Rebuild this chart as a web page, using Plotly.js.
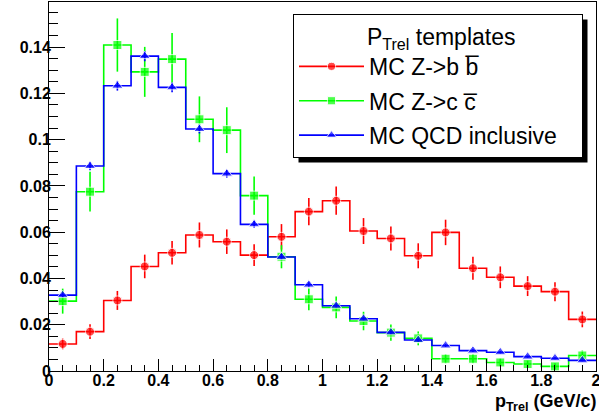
<!DOCTYPE html>
<html>
<head>
<meta charset="utf-8">
<script src="https://cdn.plot.ly/plotly-3.0.1.min.js"></script>
<style>html,body{margin:0;padding:0;background:#fff;}#chart{width:599px;height:415px;}</style>
</head>
<body>
<div id="chart"></div>
<script>
// Bin centres (p_Trel, GeV/c)
const binCenters = [0.05,0.15,0.25,0.35,0.45,0.55,0.65,0.75,0.85,0.95,1.05,1.15,1.25,1.35,1.45,1.55,1.65,1.75,1.85,1.95];

// MC Z->b bbar
const zbbValues = [0.0117,0.0170,0.0305,0.0452,0.0511,0.0588,0.0559,0.0501,0.0580,0.0689,0.0736,0.0605,0.0573,0.0498,0.0599,0.0444,0.0405,0.0367,0.0343,0.0223];
const zbbErrors = [0.0023,0.0032,0.0041,0.0051,0.0051,0.0054,0.0053,0.0047,0.0055,0.0059,0.0061,0.0056,0.0052,0.0054,0.0055,0.0050,0.0047,0.0043,0.0041,0.0034];

// MC Z->c cbar
const zccValues = [0.0302,0.0775,0.1409,0.1293,0.1348,0.1088,0.1041,0.0758,0.0494,0.0310,0.0275,0.0216,0.0166,0.0141,0.0053,0.0053,0.0037,0.0030,0.0020,0.0067];
const zccErrors = [0.0054,0.0086,0.0115,0.0108,0.0113,0.0099,0.0099,0.0083,0.0050,0.0047,0.0047,0.0040,0.0035,0.0030,0.0020,0.0020,0.0017,0.0015,0.0013,0.0022];

// MC QCD inclusive
const qcdValues = [0.0328,0.0886,0.1233,0.1361,0.1226,0.1046,0.0853,0.0634,0.0493,0.0373,0.0282,0.0226,0.0167,0.0134,0.0110,0.0088,0.0081,0.0062,0.0055,0.0046];
const qcdErrors = [0.0010,0.0018,0.0021,0.0022,0.0021,0.0019,0.0017,0.0015,0.0013,0.0011,0.0010,0.0009,0.0008,0.0007,0.0006,0.0006,0.0005,0.0005,0.0004,0.0004];

const seriesNames = ['MC Z->b b\u0305', 'MC Z->c c\u0305', 'MC QCD inclusive'];
const legendTitle = 'P<sub>Trel</sub> templates';
const xTitle = 'p<sub>Trel</sub> (GeV/c)';

// ---- build histogram-style traces (steps through bin edges, markers at centres)
const NB = '\u00a0';
const half = (binCenters[1] - binCenters[0]) / 2;
function histTrace(name, vals, errs, color, symbol, size, group) {
  const lo = binCenters[0] - half, hi = binCenters[binCenters.length - 1] + half;
  return {
    type: 'scatter', mode: 'lines+markers', name: name, legendgroup: group,
    x: [lo].concat(binCenters, [hi]),
    y: [vals[0]].concat(vals, [vals[vals.length - 1]]),
    line: {shape: 'hvh', color: color, width: 1.6},
    marker: {symbol: symbol, color: color, size: [0].concat(vals.map(() => size), [0])},
    error_y: {type: 'data', array: [0].concat(errs, [0]), visible: true, width: 0, thickness: 1.6, color: color},
    hoverinfo: 'x+y'
  };
}

const traces = [
  histTrace(seriesNames[0], zbbValues, zbbErrors, '#ff0000', 'circle', 9, 'g1'),
  histTrace(seriesNames[1], zccValues, zccErrors, '#00ff00', 'square', 9, 'g2'),
  histTrace(seriesNames[2] + NB.repeat(3), qcdValues, qcdErrors, '#0000ff', 'triangle-up', 10, 'g3')
];

const L = 49, R = 3, T = 2, B = 44, W = 599, H = 415;
const pw = W - L - R, ph = H - T - B;
const px2x = p => (p - L) / pw;
const px2y = p => 1 - (p - T) / ph;

const tickFont = {family: 'Liberation Sans, Arial, sans-serif', size: 16, color: '#000', weight: 'bold'};

const layout = {
  width: W, height: H,
  margin: {l: L, r: R, t: T, b: B, pad: 0, autoexpand: false},
  paper_bgcolor: '#fff', plot_bgcolor: '#fff',
  showlegend: true,
  xaxis: {
    range: [0, 2], tick0: 0, dtick: 0.2, ticks: 'inside', ticklen: 12, tickwidth: 1, tickcolor: '#000',
    minor: {dtick: 0.05, ticks: 'inside', ticklen: 6, tickwidth: 1, tickcolor: '#000'},
    showline: true, linecolor: '#000', linewidth: 1, mirror: true,
    showgrid: false, zeroline: false, tickfont: tickFont, fixedrange: true,
    ticklabeloverflow: 'allow', ticklabelstandoff: -5
  },
  yaxis: {
    range: [0, 0.1595], tick0: 0, dtick: 0.02, ticks: 'inside', ticklen: 16, tickwidth: 1, tickcolor: '#000',
    minor: {dtick: 0.005, ticks: 'inside', ticklen: 9, tickwidth: 1, tickcolor: '#000'},
    showline: true, linecolor: '#000', linewidth: 1, mirror: true,
    showgrid: false, zeroline: false, tickfont: tickFont, fixedrange: true,
    ticklabelstandoff: -6
  },
  legend: {
    x: px2x(293), y: px2y(14), xanchor: 'left', yanchor: 'top',
    bgcolor: '#fff', bordercolor: '#000', borderwidth: 1,
    font: {family: 'Liberation Sans, Arial, sans-serif', size: 23, color: '#000'},
    itemwidth: 65, traceorder: 'grouped', tracegroupgap: 1.5,
    title: {text: NB + legendTitle, side: 'top center',
            font: {family: 'Liberation Sans, Arial, sans-serif', size: 23, color: '#000'}}
  },
  annotations: [{
    text: xTitle, xref: 'paper', yref: 'paper', x: px2x(598), y: 0, xanchor: 'right', yanchor: 'top', yshift: -18,
    showarrow: false, font: {family: 'Liberation Sans, Arial, sans-serif', size: 18, color: '#000', weight: 'bold'}
  }],
  shapes: []
};

Plotly.newPlot('chart', traces, layout, {staticPlot: true, displayModeBar: false}).then(function (gd) {
  // drop shadow behind the legend box, offset like the ROOT TLegend shadow
  const bg = gd.querySelector('.legend rect.bg');
  if (!bg) return;
  const r = bg.getBoundingClientRect(), c = gd.getBoundingClientRect();
  const off = 5;
  const left = r.left - c.left + off, right = r.right - c.left + off;
  const top = r.top - c.top + off, bottom = r.bottom - c.top + off;
  return Plotly.relayout(gd, {shapes: [{
    type: 'rect', xref: 'paper', yref: 'paper', layer: 'above',
    x0: px2x(left), x1: px2x(right), y0: px2y(top), y1: px2y(bottom),
    fillcolor: '#000', line: {width: 0}
  }]});
});
</script>
</body>
</html>
